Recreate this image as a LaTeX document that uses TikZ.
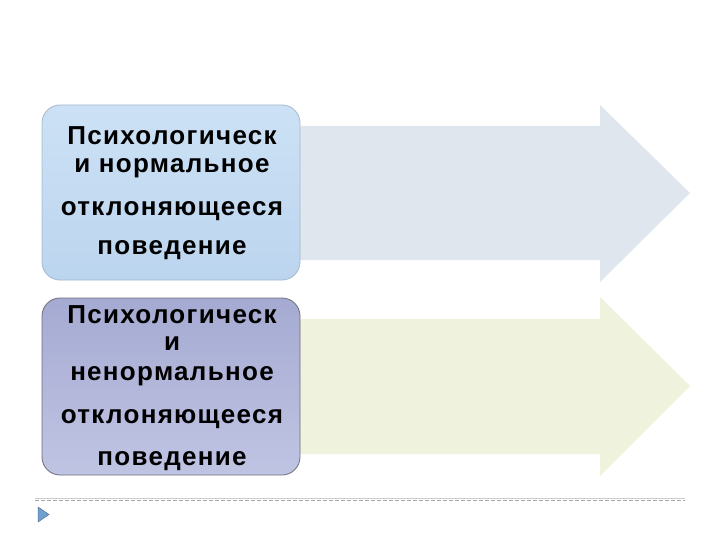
\documentclass[tikz,border=0pt]{standalone}
\usepackage{fontspec}
\setmainfont{Liberation Sans}
\newfontfamily\lblfont[LetterSpace=5]{Liberation Sans}
\definecolor{arrA}{RGB}{223,230,238}
\definecolor{arrB}{RGB}{239,242,220}
\definecolor{boxAtop}{RGB}{204,225,245}
\definecolor{boxAbot}{RGB}{188,213,238}
\definecolor{boxAline}{RGB}{165,185,205}
\definecolor{boxBtop}{RGB}{165,170,210}
\definecolor{boxBbot}{RGB}{192,196,227}
\definecolor{boxBline}{RGB}{110,110,120}
\definecolor{triLine}{RGB}{90,110,140}
\definecolor{triFill}{RGB}{110,160,210}
\begin{document}
\begin{tikzpicture}[x=1pt,y=-1pt,
  lbl/.style={font=\lblfont\fontsize{26}{28}\selectfont\bfseries, inner sep=0pt, anchor=center},
  arrowshape/.style={fill=#1, draw=none}]
\useasboundingbox (0,0) rectangle (720,540);
\fill[white] (0,0) rectangle (720,540);
% arrows
\fill[arrowshape=arrA] (290,126) -- (600,126) -- (600,105) -- (690,193) -- (600,282) -- (600,260) -- (290,260) -- cycle;
\fill[arrowshape=arrB] (290,319) -- (600,319) -- (600,297) -- (690,386) -- (600,476) -- (600,454) -- (290,454) -- cycle;
% boxes
\shade[top color=boxAtop, bottom color=boxAbot, draw=boxAline, rounded corners=18pt, line width=0.8pt] (42,105) rectangle (300,280);
\node[minimum width=258pt, minimum height=175pt, inner sep=0pt] (b1) at (171,192.5) {};
\shade[top color=boxBtop, bottom color=boxBbot, draw=boxBline, rounded corners=18pt, line width=0.8pt] (42,298) rectangle (300,475);
\node[minimum width=258pt, minimum height=177pt, inner sep=0pt] (b2) at (171,386.5) {};
% texts box 1
\node[lbl] (t11) at (172,136) {Психологическ};
\node[lbl] (t12) at (172,168) {и нормальное};
\node[lbl] (t13) at (172,211) {отклоняющееся};
\node[lbl] (t14) at (172,250) {поведение};
% texts box 2
\node[lbl] (t21) at (172,315) {Психологическ};
\node[lbl] (t22) at (172,344) {и};
\node[lbl] (t23) at (172,376) {ненормальное};
\node[lbl] (t24) at (172,419) {отклоняющееся};
\node[lbl] (t25) at (172,461) {поведение};
% footer
\coordinate (d1) at (35,500);
\coordinate (d2) at (685,500);
\draw[gray!70, dash pattern=on 4pt off 2pt, line width=0.6pt] (d1) -- (d2);
\draw[gray!40, line width=0.4pt] (35,498) -- (685,498);
\filldraw[draw=triLine, fill=triFill, line width=0.5pt] (38,507) -- (49,514.5) -- (38,522) -- cycle;
\end{tikzpicture}
\end{document}
